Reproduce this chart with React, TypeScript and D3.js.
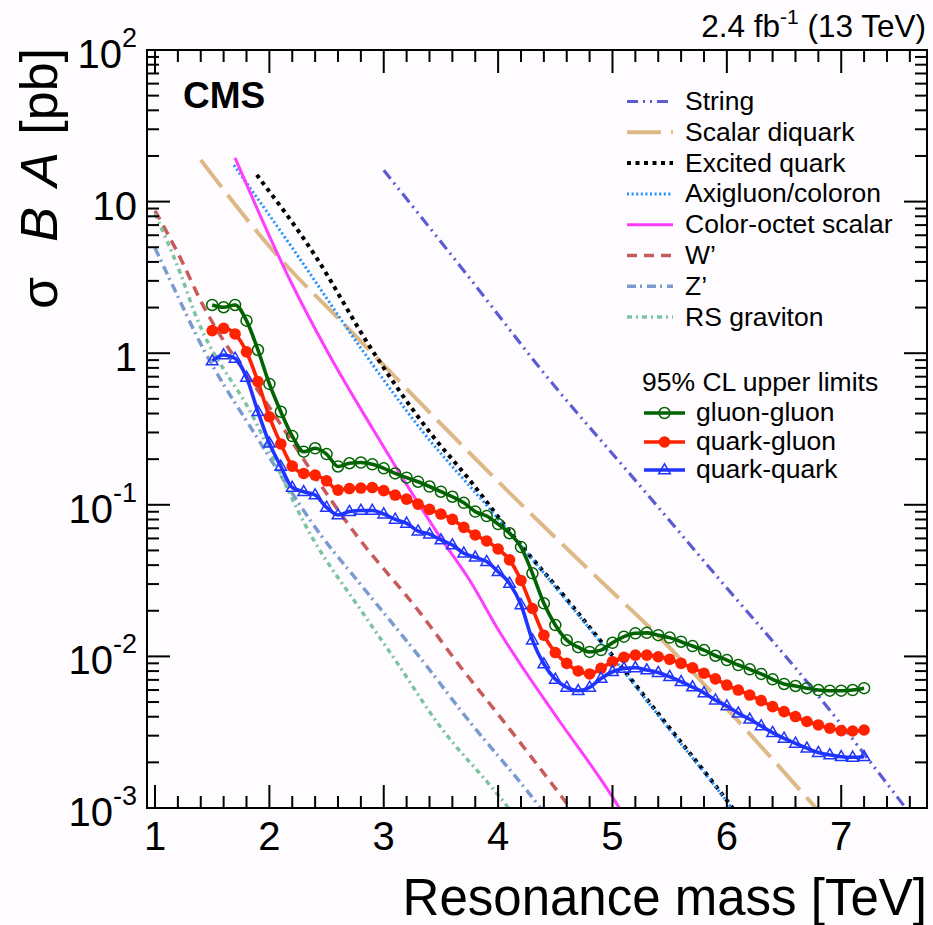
import React from 'react';
import * as d3 from 'd3';

// ---- data -------------------------------------------------------------

// resonance masses (TeV) at which the 95% CL limits are evaluated
const limitMass = [
  1.5, 1.6, 1.7, 1.8, 1.9, 2.0, 2.1, 2.2, 2.3, 2.4, 2.5, 2.6, 2.7, 2.8, 2.9,
  3.0, 3.1, 3.2, 3.3, 3.4, 3.5, 3.6, 3.7, 3.8, 3.9, 4.0, 4.1, 4.2, 4.3, 4.4,
  4.5, 4.6, 4.7, 4.8, 4.9, 5.0, 5.1, 5.2, 5.3, 5.4, 5.5, 5.6, 5.7, 5.8, 5.9,
  6.0, 6.1, 6.2, 6.3, 6.4, 6.5, 6.6, 6.7, 6.8, 6.9, 7.0, 7.1, 7.2,
];

// observed upper limits on sigma*B*A (pb)
const limitGluonGluon = [
  2.08, 2.01, 2.08, 1.64, 1.05, 0.627, 0.411, 0.284, 0.224, 0.236, 0.216, 0.179, 0.188, 0.190, 0.185,
  0.174, 0.161, 0.151, 0.142, 0.132, 0.122, 0.113, 0.103, 0.0902, 0.0843, 0.0746, 0.0649, 0.0526, 0.0353, 0.0224,
  0.0161, 0.0128, 0.0115, 0.0107, 0.0110, 0.0123, 0.0135, 0.0142, 0.0143, 0.0138, 0.0133, 0.0125, 0.0117, 0.0110, 0.0101,
  0.00946, 0.00877, 0.00822, 0.00766, 0.00706, 0.00658, 0.00638, 0.00617, 0.00600, 0.00594, 0.00594, 0.00600, 0.00617,
];
const limitQuarkGluon = [
  1.41, 1.46, 1.34, 1.02, 0.649, 0.381, 0.252, 0.180, 0.161, 0.157, 0.144, 0.125, 0.128, 0.129, 0.130,
  0.124, 0.116, 0.109, 0.101, 0.0933, 0.0869, 0.0802, 0.0710, 0.0632, 0.0577, 0.0511, 0.0433, 0.0317, 0.0207, 0.0138,
  0.0106, 0.00899, 0.00802, 0.00766, 0.00834, 0.00923, 0.00986, 0.0102, 0.0102, 0.00995, 0.00957, 0.00899, 0.00841, 0.00774, 0.00711,
  0.00647, 0.00600, 0.00556, 0.00511, 0.00466, 0.00432, 0.00401, 0.00372, 0.00353, 0.00336, 0.00324, 0.00322, 0.00327,
];
const limitQuarkQuark = [
  0.889, 0.973, 0.925, 0.693, 0.411, 0.255, 0.179, 0.130, 0.122, 0.116, 0.0962, 0.0857, 0.0902, 0.0918, 0.0918,
  0.0869, 0.0802, 0.0755, 0.0671, 0.0641, 0.0586, 0.0543, 0.0479, 0.0451, 0.0422, 0.0362, 0.0303, 0.0219, 0.0128, 0.00891,
  0.00706, 0.00625, 0.00594, 0.00625, 0.00716, 0.00792, 0.00834, 0.00841, 0.00813, 0.00782, 0.00735, 0.00681, 0.00628, 0.00575, 0.00515,
  0.00471, 0.00422, 0.00385, 0.00348, 0.00314, 0.00288, 0.00267, 0.00248, 0.00232, 0.00224, 0.00218, 0.00216, 0.00218,
];

// model predictions: mass (TeV) and sigma*B*A (pb)
const stringMass = [3.0, 3.7, 4.45, 5.2, 5.94, 6.7, 7.6];
const stringXsec = [16.1, 3.5, 0.665, 0.145, 0.0319, 0.0068, 0.00092];

const diquarkMass = [1.4, 2.05, 2.7, 3.32, 4.1, 4.98, 5.33, 5.83, 6.8];
const diquarkXsec = [18.8, 4.58, 1.43, 0.47, 0.12, 0.0274, 0.0154, 0.0062, 0.00096];

const excitedMass = [1.89, 2.4, 2.88, 3.41, 3.75, 4.09, 4.57, 5.0, 5.41, 6.05, 6.1];
const excitedXsec = [15.0, 4.4, 1.10, 0.296, 0.146, 0.0682, 0.0254, 0.0101, 0.0041, 0.0010, 0.00089];

const axigluonMass = [1.69, 2.25, 2.8, 3.33, 3.96, 4.57, 5.0, 5.41, 6.05, 6.1];
const axigluonXsec = [17.4, 4.37, 1.08, 0.311, 0.0879, 0.0248, 0.0099, 0.0040, 0.00098, 0.00087];

const octetMass = [1.7, 2.18, 2.5, 2.91, 3.14, 3.49, 3.75, 4.02, 4.23, 4.51, 5.06, 5.1];
const octetXsec = [19.4, 3.04, 1.05, 0.311, 0.161, 0.0617, 0.0319, 0.0142, 0.0081, 0.0040, 0.0010, 0.00089];

const wprimeMass = [1.0, 1.2, 1.41, 2.0, 2.75, 3.32, 3.67, 3.99, 4.63, 4.7];
const wprimeXsec = [8.7, 4.57, 2.14, 0.44, 0.0646, 0.0193, 0.00855, 0.00424, 0.0010, 0.00085];

const zprimeMass = [1.0, 1.16, 1.39, 1.9, 2.46, 2.79, 3.38, 3.69, 4.37, 4.45];
const zprimeXsec = [4.94, 2.74, 1.19, 0.272, 0.0617, 0.0303, 0.00855, 0.00424, 0.0010, 0.00083];

const gravitonMass = [1.0, 1.22, 1.35, 1.85, 2.37, 2.82, 3.14, 3.43, 4.09, 4.15];
const gravitonXsec = [8.3, 3.39, 1.82, 0.39, 0.0617, 0.0192, 0.00855, 0.0040, 0.0010, 0.00087];

const xTicks = [1, 2, 3, 4, 5, 6, 7];
const yDecades = [-3, -2, -1, 0, 1, 2];
const yTickLabels = ['10', '10', '10', '1', '10', '10'];
const yTickExponents = ['-3', '-2', '-1', '', '', '2'];

const theoryNames = [
  'String', 'Scalar diquark', 'Excited quark', 'Axigluon/coloron',
  'Color-octet scalar', 'W\u2019', 'Z\u2019', 'RS graviton',
];
const limitNames = ['gluon-gluon', 'quark-gluon', 'quark-quark'];

// ---- layout & style -----------------------------------------------------

const W = 933;
const H = 925;
const plot = { left: 147, right: 927, top: 50, bottom: 808 };
const FONT = '"Liberation Sans", Arial, Helvetica, sans-serif';

const theoryStyles = [
  { color: '#5b5bd3', width: 3.2, dash: '11 5 2 5 2 5' },
  { color: '#deb887', width: 4, dash: '34 10' },
  { color: '#000000', width: 4, dash: '4 4.5' },
  { color: '#1e90ff', width: 3, dash: '2 2.6' },
  { color: '#ff3dff', width: 3, dash: null },
  { color: '#c85a5a', width: 3.5, dash: '10 7' },
  { color: '#7a9bd0', width: 3.5, dash: '9 4 2 5' },
  { color: '#7dc3a0', width: 3.5, dash: '5 4 2 4' },
];

const theorySeries = [
  [stringMass, stringXsec],
  [diquarkMass, diquarkXsec],
  [excitedMass, excitedXsec],
  [axigluonMass, axigluonXsec],
  [octetMass, octetXsec],
  [wprimeMass, wprimeXsec],
  [zprimeMass, zprimeXsec],
  [gravitonMass, gravitonXsec],
];

const limitSeries = [limitGluonGluon, limitQuarkGluon, limitQuarkQuark];
const limitStyles = [
  { color: '#006400', marker: 'openCircle' },
  { color: '#ff2200', marker: 'filledCircle' },
  { color: '#2034ff', marker: 'openTriangle' },
];

const x = d3.scaleLinear().domain([0.93, 7.75]).range([plot.left, plot.right]);
const y = d3.scaleLog().domain([1e-3, 1e2]).range([plot.bottom, plot.top]);

const triangle = d3.symbol(d3.symbolTriangle, 58)();

function Marker({ kind, cx, cy, color }: { kind: string; cx: number; cy: number; color: string }) {
  if (kind === 'openCircle')
    return <circle cx={cx} cy={cy} r={5.5} fill="none" stroke={color} strokeWidth={1.5} />;
  if (kind === 'filledCircle')
    return <circle cx={cx} cy={cy} r={5.8} fill={color} stroke="none" />;
  return (
    <path d={triangle!} transform={`translate(${cx},${cy + 0.5})`} fill="none" stroke={color} strokeWidth={1.5} />
  );
}

export default function App() {
  const smooth = d3
    .line<[number, number]>()
    .x((d) => x(d[0]))
    .y((d) => y(d[1]))
    .curve(d3.curveMonotoneX);

  const theoryPaths = theorySeries.map(([ms, xs]) =>
    smooth(ms.map((m, i) => [m, xs[i]] as [number, number]))
  );
  const limitPaths = limitSeries.map((vals) =>
    smooth(limitMass.map((m, i) => [m, vals[i]] as [number, number]))
  );

  // tick positions
  const xMinor = d3.range(1, 7.75, 0.2).filter((v) => Math.abs(v - Math.round(v)) > 1e-6);
  const yMinor: number[] = [];
  for (let d = -3; d < 2; d++) for (let k = 2; k <= 9; k++) yMinor.push(k * Math.pow(10, d));

  const majorLen = 23;
  const minorLen = 12;

  const legendRow0 = 101.5;
  const legendStep = 30.8;
  const limRows = [413, 442, 470];

  return (
    <svg
      width={W}
      height={H}
      viewBox={`0 0 ${W} ${H}`}
      style={{ position: 'absolute', left: 0, top: 0, fontFamily: FONT }}
    >
      <defs>
        <clipPath id="plotArea">
          <rect x={plot.left} y={plot.top} width={plot.right - plot.left} height={plot.bottom - plot.top} />
        </clipPath>
      </defs>
      <rect x={0} y={0} width={W} height={H} fill="#fefcfe" />

      {/* model curves */}
      <g clipPath="url(#plotArea)" fill="none">
        {theoryPaths.map((p, i) => (
          <path
            key={i}
            d={p!}
            stroke={theoryStyles[i].color}
            strokeWidth={theoryStyles[i].width}
            strokeDasharray={theoryStyles[i].dash ?? undefined}
          />
        ))}
      </g>

      {/* limit curves with markers */}
      <g clipPath="url(#plotArea)">
        {limitPaths.map((p, i) => (
          <path key={i} d={p!} fill="none" stroke={limitStyles[i].color} strokeWidth={3.6} />
        ))}
        {limitSeries.map((vals, i) =>
          vals.map((v, j) => (
            <Marker key={`${i}-${j}`} kind={limitStyles[i].marker} cx={x(limitMass[j])} cy={y(v)} color={limitStyles[i].color} />
          ))
        )}
      </g>

      {/* frame */}
      <rect
        x={plot.left}
        y={plot.top}
        width={plot.right - plot.left}
        height={plot.bottom - plot.top}
        fill="none"
        stroke="#000"
        strokeWidth={2}
      />

      {/* ticks on all four sides */}
      <g stroke="#000" strokeWidth={2}>
        {xTicks.map((t) => (
          <g key={`xm${t}`}>
            <line x1={x(t)} x2={x(t)} y1={plot.bottom} y2={plot.bottom - majorLen} />
            <line x1={x(t)} x2={x(t)} y1={plot.top} y2={plot.top + majorLen} />
          </g>
        ))}
        {xMinor.map((t) => (
          <g key={`xn${t}`}>
            <line x1={x(t)} x2={x(t)} y1={plot.bottom} y2={plot.bottom - minorLen} />
            <line x1={x(t)} x2={x(t)} y1={plot.top} y2={plot.top + minorLen} />
          </g>
        ))}
        {yDecades.map((d) => (
          <g key={`ym${d}`}>
            <line x1={plot.left} x2={plot.left + majorLen} y1={y(Math.pow(10, d))} y2={y(Math.pow(10, d))} />
            <line x1={plot.right} x2={plot.right - majorLen} y1={y(Math.pow(10, d))} y2={y(Math.pow(10, d))} />
          </g>
        ))}
        {yMinor.map((v) => (
          <g key={`yn${v}`}>
            <line x1={plot.left} x2={plot.left + minorLen} y1={y(v)} y2={y(v)} />
            <line x1={plot.right} x2={plot.right - minorLen} y1={y(v)} y2={y(v)} />
          </g>
        ))}
      </g>

      {/* x tick labels */}
      <g fontSize={40} textAnchor="middle" fill="#000">
        {xTicks.map((t) => (
          <text key={t} x={x(t)} y={850}>
            {t}
          </text>
        ))}
      </g>

      {/* y tick labels */}
      <g fill="#000">
        {yDecades.map((d, i) => (
          <text key={d} x={137} y={y(Math.pow(10, d)) + 18} fontSize={40} textAnchor="end">
            {yTickLabels[i]}
            {yTickExponents[i] && (
              <tspan dy={-21} fontSize={27}>
                {yTickExponents[i]}
              </tspan>
            )}
          </text>
        ))}
      </g>

      {/* axis titles */}
      <text x={927} y={915} fontSize={51} textAnchor="end" fill="#000">
        Resonance mass [TeV]
      </text>
      <g transform="rotate(-90)" fontSize={52} fill="#000" textAnchor="end">
        <text x={-48} y={57}>[pb]</text>
        <text x={-152} y={57} fontStyle="italic">A</text>
        <text x={-207} y={57} fontStyle="italic">B</text>
        <text x={-277} y={57}>σ</text>
      </g>

      {/* labels */}
      <text x={183} y={108} fontSize={37} fontWeight="bold" fill="#000">
        CMS
      </text>
      <text x={926} y={37} fontSize={31.5} textAnchor="end" fill="#000">
        2.4 fb
        <tspan dy={-13} fontSize={21}>-1</tspan>
        <tspan dy={13}> (13 TeV)</tspan>
      </text>

      {/* model legend */}
      <g fontSize={26.5} fill="#000">
        {theoryNames.map((name, i) => {
          const ry = legendRow0 + i * legendStep;
          const s = theoryStyles[i];
          return (
            <g key={name}>
              <line
                x1={627}
                x2={673}
                y1={ry}
                y2={ry}
                stroke={s.color}
                strokeWidth={s.width}
                strokeDasharray={s.dash ?? undefined}
              />
              <text x={685} y={ry + 8.5}>
                {name}
              </text>
            </g>
          );
        })}
      </g>

      {/* limit legend */}
      <g fontSize={26.5} fill="#000">
        <text x={642} y={391}>95% CL upper limits</text>
        {limitNames.map((name, i) => (
          <g key={name}>
            <line x1={644} x2={685} y1={limRows[i]} y2={limRows[i]} stroke={limitStyles[i].color} strokeWidth={3.6} />
            <Marker kind={limitStyles[i].marker} cx={664.5} cy={limRows[i]} color={limitStyles[i].color} />
            <text x={696} y={limRows[i] + 7.5}>
              {name}
            </text>
          </g>
        ))}
      </g>
    </svg>
  );
}
